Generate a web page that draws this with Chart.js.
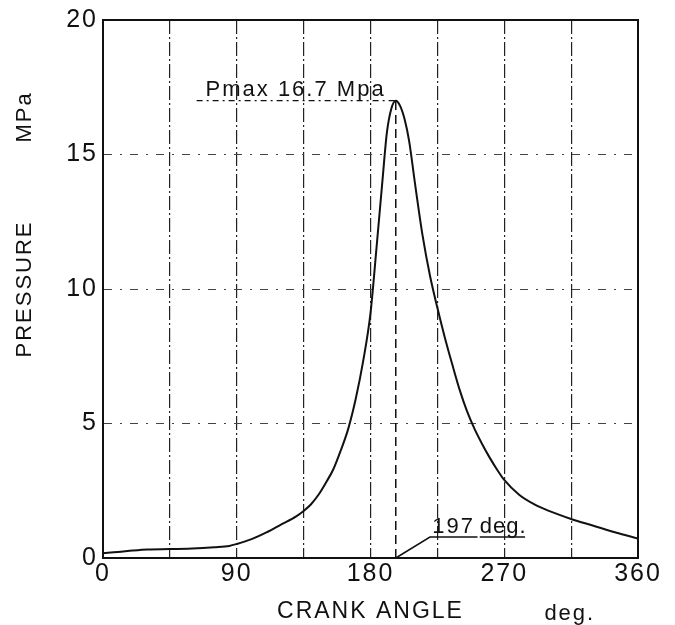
<!DOCTYPE html>
<html><head><meta charset="utf-8">
<script src="https://cdn.jsdelivr.net/npm/chart.js@4"></script>
<style>html,body{margin:0;padding:0;background:#fff}canvas{display:block}</style>
</head><body>
<canvas id="c" width="675" height="625"></canvas>
<script>
// ---- data ----
const crankAngles = [0,10,20,30,45,60,75,85,90,100,110,120,130,135,140,145,150,155,160,165,170,175,180,184,188,191,194,197,200,203,206,210,215,220,225,230,235,240,245,250,255,260,265,270,280,290,300,315,330,345,360];
const pressures   = [0.18,0.22,0.28,0.32,0.33,0.35,0.40,0.45,0.52,0.70,0.95,1.25,1.55,1.75,2.0,2.35,2.8,3.3,4.0,4.8,5.9,7.3,9.1,11.5,14.0,15.8,16.7,17.0,16.8,16.3,15.5,13.9,12.0,10.5,9.3,8.2,7.2,6.25,5.45,4.8,4.25,3.75,3.3,2.9,2.35,2.0,1.75,1.45,1.2,0.95,0.72];
const xTickValues = [0,90,180,270,360];
const yTickValues = [0,5,10,15,20];
const peakAngle = 197;
const peakPressure = 17.0;
const peakLabel = 'Pmax 16.7 Mpa';
const peakAngleLabel = '197';
const peakAngleUnit = 'deg.';
const xTitle = 'CRANK ANGLE';
const yTitle = 'PRESSURE';
const xUnit = 'deg.';
const yUnit = 'MPa';
// annotation anchor points (data units)
const pmaxLineStartAngle = 63;
const pmaxLabelAngle = 69;
const leaderEnd = {x: 220, y: 0.78};
const angleLabelStart = 221.5;
const angleLabelEnd = 252;
const unitLabelStart = 253.5;
const unitLabelEnd = 284;

const FONT = '"Liberation Sans", Arial, sans-serif';
const INK = '#111';

const spacingPlugin = {
  id: 'spacing',
  beforeLayout(c){ c.ctx.letterSpacing = '2px'; },
  beforeDraw(c){ c.ctx.letterSpacing = '2px'; }
};

const annotPlugin = {
  id: 'annot',
  afterDatasetsDraw(chart){
    const {ctx, chartArea: a, scales: {x, y}} = chart;
    ctx.save();
    ctx.strokeStyle = INK; ctx.fillStyle = INK;
    // frame
    ctx.lineWidth = 2; ctx.setLineDash([]);
    ctx.strokeRect(a.left, a.top, a.right - a.left, a.bottom - a.top);
    const px = x.getPixelForValue(peakAngle);
    const py = y.getPixelForValue(peakPressure);
    const y0 = y.getPixelForValue(0);
    // vertical dashed line at peak angle
    ctx.lineWidth = 1.5; ctx.setLineDash([9,5]);
    ctx.beginPath(); ctx.moveTo(px, y0); ctx.lineTo(px, py); ctx.stroke();
    // Pmax dash-dot line
    ctx.lineWidth = 1.2; ctx.setLineDash([6,4,2,4]);
    ctx.beginPath(); ctx.moveTo(x.getPixelForValue(pmaxLineStartAngle), py); ctx.lineTo(px, py); ctx.stroke();
    ctx.setLineDash([]);
    // Pmax label
    ctx.font = '22px ' + FONT;
    ctx.letterSpacing = '2px';
    ctx.textAlign = 'left'; ctx.textBaseline = 'alphabetic';
    ctx.fillText(peakLabel, x.getPixelForValue(pmaxLabelAngle), py - 5);
    // leader line + underlines
    const ly = y.getPixelForValue(leaderEnd.y);
    ctx.lineWidth = 1.5;
    ctx.beginPath();
    ctx.moveTo(px, y0);
    ctx.lineTo(x.getPixelForValue(leaderEnd.x), ly);
    ctx.lineTo(x.getPixelForValue(angleLabelEnd), ly);
    ctx.moveTo(x.getPixelForValue(unitLabelStart), ly);
    ctx.lineTo(x.getPixelForValue(unitLabelEnd), ly);
    ctx.stroke();
    ctx.fillText(peakAngleLabel, x.getPixelForValue(angleLabelStart), ly - 4);
    ctx.letterSpacing = '1px';
    ctx.fillText(peakAngleUnit, x.getPixelForValue(unitLabelStart), ly - 4);
    // axis units
    ctx.letterSpacing = '2px';
    ctx.font = '22px ' + FONT;
    ctx.textAlign = 'left'; ctx.textBaseline = 'alphabetic';
    ctx.fillText(xUnit, x.getPixelForValue(297), chart.height - 5);
    ctx.save();
    ctx.translate(y.left + 25, y.getPixelForValue(16.4));
    ctx.rotate(-Math.PI/2);
    ctx.textAlign = 'center'; ctx.textBaseline = 'middle';
    ctx.fillText(yUnit, 0, 0);
    ctx.restore();
    ctx.restore();
  }
};

new Chart(document.getElementById('c'), {
  type: 'line',
  data: {
    datasets: [{
      data: crankAngles.map((a, i) => ({x: a, y: pressures[i]})),
      borderColor: INK,
      borderWidth: 2,
      pointRadius: 0,
      fill: false,
      cubicInterpolationMode: 'monotone'
    }]
  },
  options: {
    responsive: false,
    animation: false,
    devicePixelRatio: 1,
    layout: {padding: {left: 0, right: 37, top: 16, bottom: 0}},
    plugins: {legend: {display: false}, tooltip: {enabled: false}},
    scales: {
      x: {
        type: 'linear', min: 0, max: 360,
        afterFit(s){ s.height = 67; },
        ticks: {
          stepSize: 45, autoSkip: false, maxRotation: 0, padding: 1,
          color: INK, font: {family: FONT, size: 25},
          callback: v => xTickValues.includes(v) ? String(v) : ''
        },
        grid: {color: '#222', lineWidth: 1.2, drawTicks: false},
        border: {display: true, color: INK, width: 2, dash: [14,3,2,3]},
        title: {display: true, text: xTitle, color: INK, font: {family: FONT, size: 23, lineHeight: 1}, padding: {top: 0, bottom: 2}}
      },
      y: {
        type: 'linear', min: 0, max: 20,
        afterFit(s){ s.width = 103; },
        ticks: {
          stepSize: 5, padding: 5, color: INK, font: {family: FONT, size: 25},
          callback: v => yTickValues.includes(v) ? String(v) : ''
        },
        grid: {color: '#444', lineWidth: 1, drawTicks: false},
        border: {display: true, color: INK, width: 2, dash: [8,8,2,8]},
        title: {display: true, text: yTitle, color: INK, font: {family: FONT, size: 22, lineHeight: 1}, padding: {top: 14, bottom: 0}}
      }
    }
  },
  plugins: [spacingPlugin, annotPlugin]
});
</script>
</body></html>
